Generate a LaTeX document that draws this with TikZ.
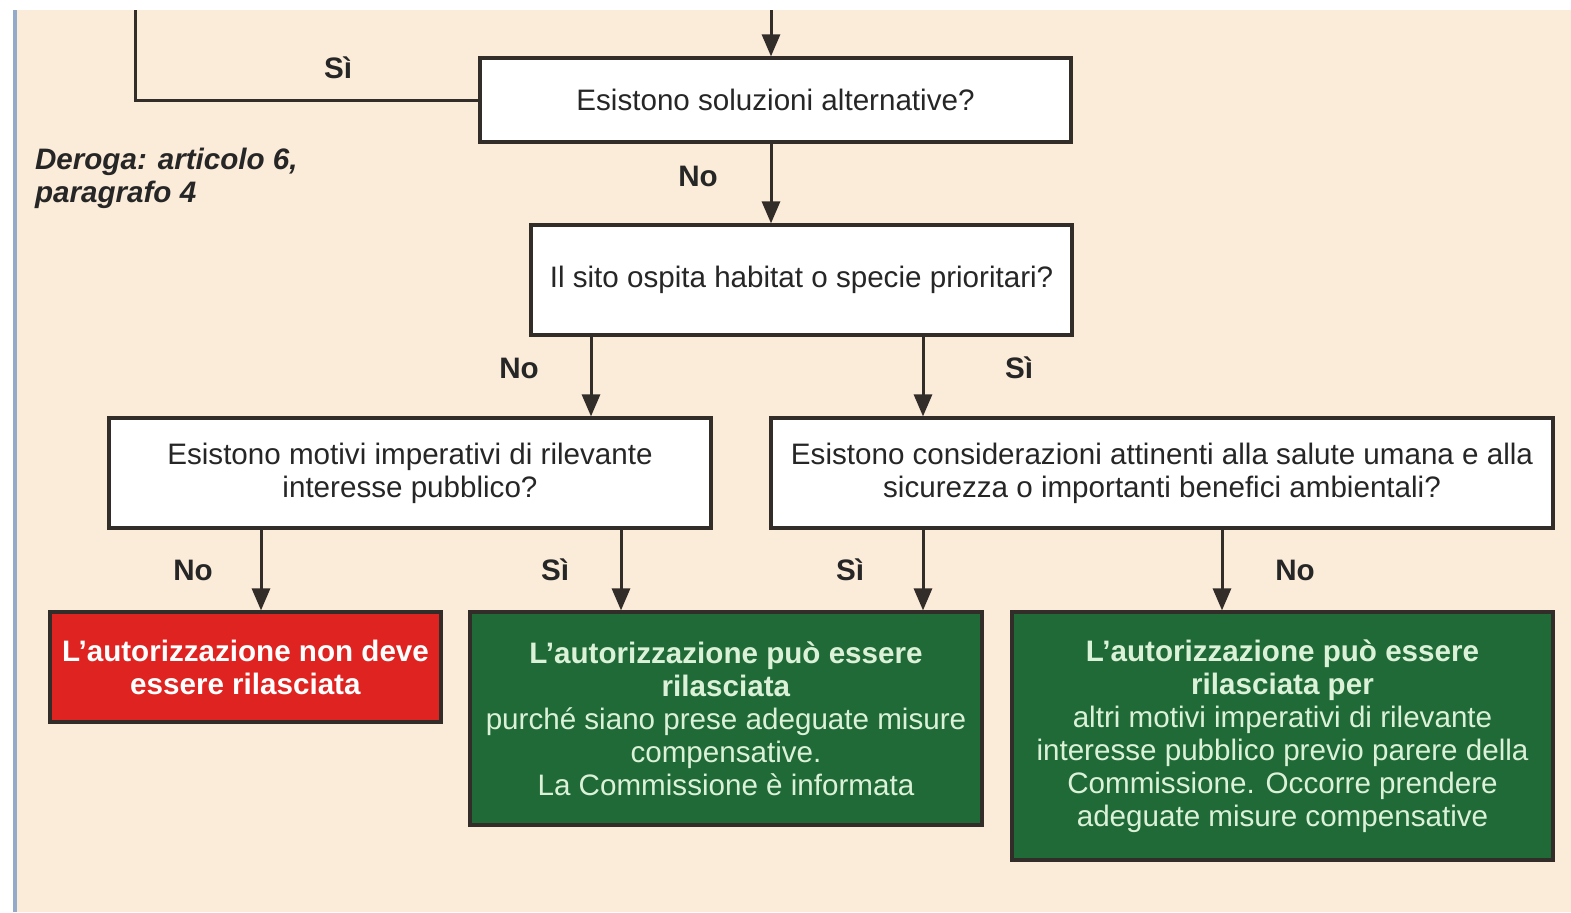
\documentclass[tikz,border=0pt]{standalone}
\usepackage{fontspec}
\setmainfont{Liberation Sans}
\usetikzlibrary{positioning,arrows.meta}

\definecolor{sfondo}{HTML}{FBEBD9}
\definecolor{rosso}{HTML}{DF2320}
\definecolor{verde}{HTML}{1F6A36}
\definecolor{bordo}{HTML}{332D2A}
\definecolor{testoverde}{HTML}{DCF2D8}
\definecolor{margine}{HTML}{94AACB}

\begin{document}
\begin{tikzpicture}[x=0.5pt,y=-0.5pt,
  every node/.style={font=\fontsize{14.8}{16.5}\selectfont},
  domanda/.style={draw=bordo,line width=1.6pt,fill=white,text=black!85,align=center,inner sep=0pt},
  esito/.style={draw=bordo,line width=1.6pt,align=center,inner sep=0pt},
  freccia/.style={draw=bordo,line width=1.5pt,-{Triangle[length=11pt,width=9pt]}},
  linea/.style={draw=bordo,line width=1.5pt},
  etichetta/.style={font=\fontsize{14.8}{16.5}\selectfont\bfseries,text=black!85}]

\useasboundingbox (0,0) rectangle (1571,912);
\fill[sfondo] (17,10) rectangle (1571,912);
\draw[margine,line width=1.8pt] (15,10) -- (15,912);

\node[domanda,minimum width=295.5pt,minimum height=42pt] (alternative) at (775.5,100) {Esistono soluzioni alternative?};
\node[domanda,minimum width=270.5pt,minimum height=55pt] (prioritari) at (801.5,280) {Il sito ospita habitat o specie prioritari?};
\node[domanda,minimum width=301pt,minimum height=55pt] (motivi) at (410,473) {Esistono motivi imperativi di rilevante\\interesse pubblico?};
\node[domanda,minimum width=391pt,minimum height=55pt] (salute) at (1162,473) {Esistono considerazioni attinenti alla salute umana e alla\\sicurezza o importanti benefici ambientali?};

\node[esito,fill=rosso,text=white,minimum width=195.5pt,minimum height=55pt] (negata) at (245.5,667) {\textbf{L'autorizzazione non deve}\\\textbf{essere rilasciata}};
\node[esito,fill=verde,text=testoverde,minimum width=256pt,minimum height=106.5pt] (compensata) at (726,718.5) {\textbf{L'autorizzazione può essere}\\\textbf{rilasciata}\\purché siano prese adeguate misure\\compensative.\\La Commissione è informata};
\node[esito,fill=verde,text=testoverde,minimum width=270.5pt,minimum height=124pt] (parere) at (1282.5,736) {\textbf{L'autorizzazione può essere}\\\textbf{rilasciata per}\\altri motivi imperativi di rilevante\\interesse pubblico previo parere della\\Commissione. Occorre prendere\\adeguate misure compensative};

\node[anchor=west,align=left,font=\fontsize{14.8}{16.5}\selectfont\bfseries\itshape,text=black!85] (deroga) at (28,178) {Deroga: articolo 6,\\paragrafo 4};

\coordinate (entrata) at (771,10);
\coordinate (ritorno) at (135,10);

\draw[freccia] (entrata) -- (entrata |- alternative.north);
\draw[linea] (ritorno) |- (alternative.west);
\draw[freccia] (entrata |- alternative.south) -- (entrata |- prioritari.north);
\draw[freccia] (prioritari.south -| 591,0) -- (motivi.north -| 591,0);
\draw[freccia] (prioritari.south -| 923,0) -- (salute.north -| 923,0);
\draw[freccia] (motivi.south -| 261,0) -- (negata.north -| 261,0);
\draw[freccia] (motivi.south -| 621,0) -- (compensata.north -| 621,0);
\draw[freccia] (salute.south -| 923,0) -- (compensata.north -| 923,0);
\draw[freccia] (salute.south -| 1222,0) -- (parere.north -| 1222,0);

\node[etichetta] (si0) at (338,68) {Sì};
\node[etichetta] (no0) at (698,176) {No};
\node[etichetta] (no1) at (519,368) {No};
\node[etichetta] (si1) at (1019,368) {Sì};
\node[etichetta] (no2) at (193,570) {No};
\node[etichetta] (si2) at (555,570) {Sì};
\node[etichetta] (si3) at (850,570) {Sì};
\node[etichetta] (no3) at (1295,570) {No};

\end{tikzpicture}
\end{document}
